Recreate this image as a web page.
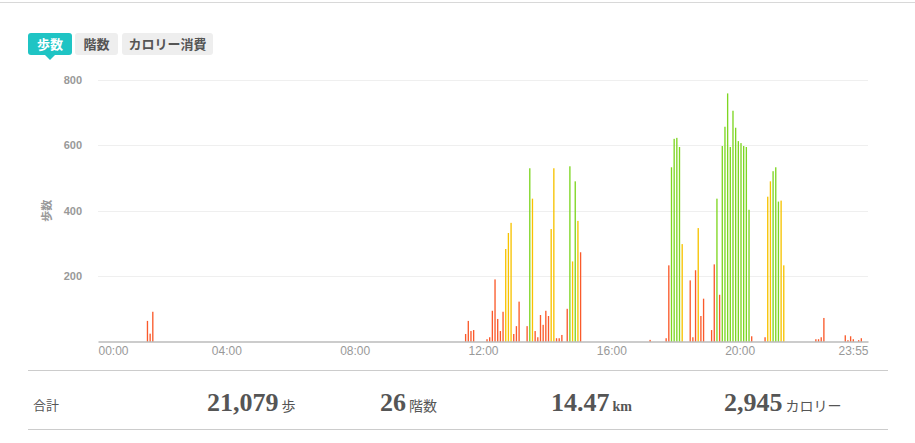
<!DOCTYPE html>
<html lang="ja">
<head>
<meta charset="utf-8">
<script src="https://cdn.jsdelivr.net/npm/d3@7"></script>
<style>
  body { margin: 0; background: #fff; }
  svg { display: block; }
</style>
</head>
<body>
<div id="chart"></div>
<script>
// active 5-minute slots (every other slot of the day is 0)
const times = [
  '01:30', '01:35', '01:40',
  '11:25', '11:30', '11:35', '11:40', '12:05', '12:10', '12:15', '12:20',
  '12:25', '12:30', '12:35', '12:40', '12:45', '12:50', '12:55', '13:00',
  '13:05', '13:20', '13:25', '13:30', '13:35', '13:40', '13:45', '13:50',
  '13:55', '14:00', '14:05', '14:10', '14:15', '14:20', '14:25', '14:35',
  '14:40', '14:45', '14:50', '14:55', '15:00',
  '17:10', '17:40', '17:45', '17:50', '17:55', '18:00', '18:05', '18:10',
  '18:25', '18:30', '18:35', '18:40', '18:45', '18:50', '19:05', '19:10',
  '19:15', '19:20', '19:25', '19:30', '19:35', '19:40', '19:45', '19:50',
  '19:55', '20:00', '20:05', '20:10', '20:15', '20:20', '20:45', '20:50',
  '20:55', '21:00', '21:05', '21:10', '21:15', '21:20',
  '22:20', '22:25', '22:30', '22:35', '23:15', '23:20', '23:25', '23:30',
  '23:40', '23:45'
];
const steps = [
  63, 24, 91,
  23, 63, 32, 35, 7, 13, 94, 190,
  69, 32, 91, 283, 332, 363, 23, 47,
  122, 47, 530, 437, 32, 13, 81, 51,
  94, 78, 344, 530, 10, 10, 20, 100,
  536, 245, 490, 369, 273,
  5, 10, 233, 533, 620, 623, 595, 298,
  187, 13, 218, 347, 78, 131, 35, 236,
  437, 143, 598, 657, 759, 595, 706, 654,
  613, 607, 598, 595, 403, 16, 13, 443,
  490, 521, 533, 428, 431, 233,
  7, 7, 13, 72, 19, 4, 16, 7,
  4, 10
];
// activity level: l = light, m = moderate, h = vigorous
const levels = [
  'l', 'l', 'l',
  'l', 'l', 'l', 'l', 'l', 'l', 'l', 'l',
  'l', 'l', 'l', 'm', 'm', 'm', 'l', 'l',
  'l', 'l', 'h', 'm', 'l', 'l', 'l', 'l',
  'l', 'l', 'm', 'm', 'l', 'l', 'l', 'l',
  'h', 'm', 'h', 'm', 'l',
  'l', 'l', 'l', 'h', 'h', 'h', 'h', 'm',
  'l', 'l', 'l', 'm', 'l', 'l', 'l', 'l',
  'h', 'l', 'h', 'h', 'h', 'h', 'h', 'h',
  'h', 'h', 'h', 'h', 'h', 'l', 'l', 'm',
  'm', 'h', 'h', 'h', 'm', 'm',
  'l', 'l', 'l', 'l', 'l', 'l', 'l', 'l',
  'l', 'l'
];
const yTicks = [200, 400, 600, 800];
const xTickLabels = ['00:00', '04:00', '08:00', '12:00', '16:00', '20:00', '23:55'];
const tabs = ['歩数', '階数', 'カロリー消費'];
const totalValues = ['21,079', '26', '14.47', '2,945'];
const totalUnits = ['歩', '階数', 'km', 'カロリー'];

const width = 915;
const height = 443;
const margin = { top: 80, right: 47, bottom: 102, left: 98 };
const colors = { l: '#fa5a2b', m: '#f7c300', h: '#7ed622' };
const jp = "'Noto Sans CJK JP', 'Noto Sans', sans-serif";
const sans = "'Liberation Sans', Arial, sans-serif";
const serif = "'Liberation Serif', 'DejaVu Serif', serif";

const toMin = (t) => {
  const [h, m] = t.split(':').map(Number);
  return h * 60 + m;
};
const fmt = (m) => d3.format('02d')(Math.floor(m / 60)) + ':' + d3.format('02d')(m % 60);

const slots = d3.range(0, 1440, 5).map(fmt);
const data = times.map((t, i) => ({ time: t, value: steps[i], level: levels[i] }));

const svg = d3
  .select('#chart')
  .append('svg')
  .attr('width', width)
  .attr('height', height);

const x = d3
  .scaleLinear()
  .domain([0, 1440])
  .range([margin.left, width - margin.right]);

const xb = d3
  .scaleBand()
  .domain(slots)
  .range(x.range())
  .paddingInner(0.5)
  .paddingOuter(0.25);

const y = d3
  .scaleLinear()
  .domain([0, 800])
  .range([height - margin.bottom + 0.5, margin.top]);

// top rule
svg
  .append('line')
  .attr('x1', 0)
  .attr('x2', width)
  .attr('y1', 2.5)
  .attr('y2', 2.5)
  .attr('stroke', '#d8d8d8');

// tabs
const tabW = [44, 43, 91];
const tabX = [28, 75, 122];
const tab = svg
  .append('g')
  .selectAll('g')
  .data(tabs)
  .join('g')
  .attr('transform', (d, i) => `translate(${tabX[i]},33)`);

tab
  .append('rect')
  .attr('width', (d, i) => tabW[i])
  .attr('height', 22)
  .attr('rx', 3)
  .attr('fill', (d, i) => (i === 0 ? '#1fc4c4' : '#eeeeee'));

tab
  .append('text')
  .attr('x', (d, i) => tabW[i] / 2)
  .attr('y', 15.5)
  .attr('text-anchor', 'middle')
  .attr('font-family', jp)
  .attr('font-weight', 'bold')
  .attr('font-size', 13)
  .attr('fill', (d, i) => (i === 0 ? '#ffffff' : '#555555'))
  .text((d) => d);

svg
  .append('path')
  .attr('d', `M${tabX[0] + tabW[0] / 2 - 5},55L${tabX[0] + tabW[0] / 2},60L${tabX[0] + tabW[0] / 2 + 5},55Z`)
  .attr('fill', '#1fc4c4');

// grid + y labels
svg
  .append('g')
  .selectAll('line')
  .data(yTicks)
  .join('line')
  .attr('x1', x.range()[0])
  .attr('x2', x.range()[1])
  .attr('y1', (d) => Math.round(y(d)) + 0.5)
  .attr('y2', (d) => Math.round(y(d)) + 0.5)
  .attr('stroke', '#efefef');

svg
  .append('g')
  .selectAll('text')
  .data(yTicks)
  .join('text')
  .attr('x', 82)
  .attr('y', (d) => y(d) + 4)
  .attr('text-anchor', 'end')
  .attr('font-family', sans)
  .attr('font-weight', 'bold')
  .attr('font-size', 11)
  .attr('fill', '#999999')
  .text((d) => d);

svg
  .append('text')
  .attr('transform', `translate(51,${y(400)}) rotate(-90)`)
  .attr('text-anchor', 'middle')
  .attr('font-family', jp)
  .attr('font-weight', 'bold')
  .attr('font-size', 11)
  .attr('fill', '#999999')
  .text(tabs[0]);

// bars
svg
  .append('g')
  .selectAll('rect')
  .data(data)
  .join('rect')
  .attr('x', (d) => xb(d.time))
  .attr('y', (d) => y(d.value))
  .attr('width', xb.bandwidth())
  .attr('height', (d) => y(0) - y(d.value))
  .attr('fill', (d) => colors[d.level]);

// x axis
const last = xTickLabels.length - 1;
const xAxis = svg
  .append('g')
  .attr('transform', `translate(0,${y(0)})`)
  .call(
    d3
      .axisBottom(x)
      .tickValues(xTickLabels.map(toMin))
      .tickSize(0)
      .tickPadding(5)
      .tickFormat(fmt)
  );

xAxis.select('.domain').attr('stroke', '#999999').attr('stroke-width', 1.2);
xAxis
  .selectAll('text')
  .attr('font-family', sans)
  .attr('font-size', 12)
  .attr('fill', '#999999')
  .attr('text-anchor', (d, i) => (i === 0 ? 'start' : i === last ? 'end' : 'middle'))
  .attr('dx', (d, i) => (i === last ? x.range()[1] - x(d) : 0));

// totals
svg
  .append('g')
  .selectAll('line')
  .data([370.5, 429.5])
  .join('line')
  .attr('x1', 28)
  .attr('x2', 888)
  .attr('y1', (d) => d)
  .attr('y2', (d) => d)
  .attr('stroke', '#cccccc');

svg
  .append('text')
  .attr('x', 33)
  .attr('y', 410)
  .attr('font-family', jp)
  .attr('font-size', 13)
  .attr('fill', '#555555')
  .text('合計');

const totX = [207, 380, 551, 724];
const tot = svg
  .append('g')
  .selectAll('text')
  .data(totalValues)
  .join('text')
  .attr('x', (d, i) => totX[i])
  .attr('y', 411)
  .attr('fill', '#555555');

tot
  .append('tspan')
  .attr('font-family', serif)
  .attr('font-weight', 'bold')
  .attr('font-size', 26)
  .text((d) => d);

tot
  .append('tspan')
  .attr('dx', 3)
  .attr('font-family', (d, i) => (totalUnits[i] === 'km' ? serif : jp))
  .attr('font-weight', (d, i) => (totalUnits[i] === 'km' ? 'bold' : 'normal'))
  .attr('font-size', 14)
  .text((d, i) => totalUnits[i]);
</script>
</body>
</html>
